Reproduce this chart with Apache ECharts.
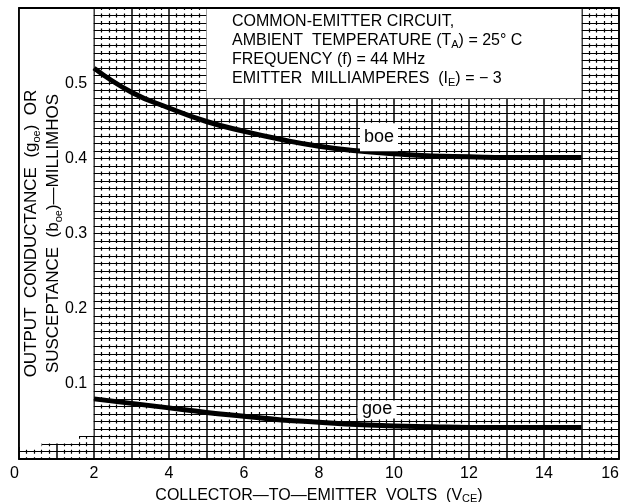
<!DOCTYPE html>
<html>
<head>
<meta charset="utf-8">
<script src="https://cdn.jsdelivr.net/npm/echarts@6/dist/echarts.min.js"></script>
<style>
  html, body { margin: 0; padding: 0; background: #fff; }
  #chart { width: 625px; height: 502px; }
</style>
</head>
<body>
<div id="chart"></div>
<script>
// collector-to-emitter volts
var voltage = [2, 3, 4, 5, 6, 7, 8, 9, 10, 11, 12, 13, 14, 15];
// output susceptance boe, millimhos
var boe = [0.520, 0.488, 0.467, 0.449, 0.436, 0.425, 0.416, 0.410, 0.406, 0.403, 0.402, 0.401, 0.401, 0.401];
// output conductance goe, millimhos
var goe = [0.080, 0.074, 0.068, 0.062, 0.057, 0.052, 0.049, 0.046, 0.044, 0.043, 0.042, 0.042, 0.042, 0.042];

var xTickLabels = [0, 2, 4, 6, 8, 10, 12, 14, 16];
var yTickLabels = [0.1, 0.2, 0.3, 0.4, 0.5];

// where the curve names sit
var boeLabelPos = [9.6, 0.428];
var goeLabelPos = [9.55, 0.066];

// parts of the graph paper left blank
var blankAreas = [
  [[5, 0.48], [15, 0.6]],
  [[0, 0.016], [0.6, 0.6]],
  [[0.58, 0.0205], [1.6, 0.6]],
  [[1.58, 0.0305], [1.985, 0.6]]
];

var infoLines = [
  "COMMON-EMITTER CIRCUIT,",
  "AMBIENT  TEMPERATURE (T{s|A}) = 25° C",
  "FREQUENCY (f) = 44 MHz",
  "EMITTER  MILLIAMPERES  (I{s|E}) = − 3"
];

var font = "Liberation Sans";
var sub = { fontSize: 11, lineHeight: 10, verticalAlign: "bottom", fontFamily: font, color: "#000" };

var chart = echarts.init(document.getElementById("chart"));

var option = {
  animation: false,
  backgroundColor: "#fff",
  title: {
    left: 232,
    top: 12,
    padding: 0,
    text: infoLines.join("\n"),
    textStyle: {
      fontFamily: font,
      fontSize: 16,
      fontWeight: "normal",
      color: "#000",
      lineHeight: 19,
      rich: { s: sub }
    }
  },
  grid: {
    left: 19, right: 6, top: 8, bottom: 43,
    containLabel: false, outerBoundsMode: "none",
    show: true, z: 10,
    backgroundColor: "transparent",
    borderColor: "#000", borderWidth: 1.8
  },
  xAxis: {
    type: "value",
    min: 0,
    max: 16,
    interval: 1,
    position: "bottom",
    axisLine: { show: false },
    axisTick: { show: false },
    axisLabel: {
      formatter: function (v) {
        return xTickLabels.indexOf(v) >= 0 ? String(v) : "";
      },
      fontFamily: font,
      fontSize: 16,
      color: "#000",
      margin: 7,
      alignMinLabel: "right",
      alignMaxLabel: "right"
    },
    splitLine: { show: true, lineStyle: { color: "#000", width: 1.5 } },
    minorTick: { show: false, splitNumber: 5 },
    minorSplitLine: {
      show: true,
      lineStyle: { color: "#000", width: 1.2, type: [4, 3.52], dashOffset: 2 }
    },
    name: "COLLECTOR—TO—EMITTER  VOLTS  (V{s|CE})",
    nameLocation: "middle",
    nameGap: 23,
    nameTextStyle: {
      fontFamily: font,
      fontSize: 16,
      color: "#000",
      lineHeight: 18,
      rich: { s: sub }
    }
  },
  yAxis: [
    {
      type: "value",
      min: 0,
      max: 0.6,
      interval: 0.1,
      axisLine: { show: false },
      axisTick: { show: false },
      axisLabel: { show: false },
      splitLine: { show: true, lineStyle: { color: "#000", width: 1.2 } },
      minorTick: { show: false, splitNumber: 10 },
      minorSplitLine: { show: true, lineStyle: { color: "#000", width: 1.2 } }
    },
    {
      type: "value",
      min: 0,
      max: 0.6,
      interval: 0.1,
      position: "left",
      z: 10,
      axisLine: { show: false },
      axisTick: { show: false },
      axisLabel: {
        inside: true,
        margin: 46,
        fontFamily: font,
        fontSize: 16,
        color: "#000",
        formatter: function (v) {
          var r = Math.round(v * 10) / 10;
          return yTickLabels.indexOf(r) >= 0 ? String(r) : "";
        }
      },
      splitLine: { show: false },
      name: "OUTPUT  CONDUCTANCE  (g{s|oe})  OR\nSUSCEPTANCE  (b{s|oe})—MILLIMHOS",
      nameLocation: "middle",
      nameRotate: 90,
      nameGap: -45,
      nameMoveOverlap: false,
      nameTextStyle: {
        fontFamily: font,
        fontSize: 17,
        color: "#000",
        lineHeight: 22,
        rich: { s: sub }
      }
    }
  ],
  series: [
    {
      name: "blank",
      type: "line",
      data: [],
      z: 1,
      silent: true,
      markArea: {
        silent: true,
        itemStyle: { color: "#fff" },
        data: blankAreas.map(function (a) {
          return [{ coord: a[0] }, { coord: a[1] }];
        })
      }
    },
    {
      name: "boe",
      type: "line",
      data: voltage.map(function (v, i) { return [v, boe[i]]; }),
      smooth: 0.5,
      showSymbol: false,
      lineStyle: { color: "#000", width: 5 },
      z: 3
    },
    {
      name: "goe",
      type: "line",
      data: voltage.map(function (v, i) { return [v, goe[i]]; }),
      smooth: 0.5,
      showSymbol: false,
      lineStyle: { color: "#000", width: 5 },
      z: 3
    },
    {
      name: "curve names",
      type: "scatter",
      z: 4,
      silent: true,
      symbol: "rect",
      itemStyle: { color: "#fff", opacity: 1 },
      data: [
        { name: "boe", value: boeLabelPos, symbolSize: [38, 28] },
        { name: "goe", value: goeLabelPos, symbolSize: [39, 18] }
      ],
      label: {
        show: true,
        position: "inside",
        formatter: function (p) { return p.name; },
        fontFamily: font,
        fontSize: 18,
        color: "#000",
        opacity: 1,
        textBorderWidth: 0
      },
      emphasis: { disabled: true }
    }
  ]
};

chart.setOption(option);
</script>
</body>
</html>
